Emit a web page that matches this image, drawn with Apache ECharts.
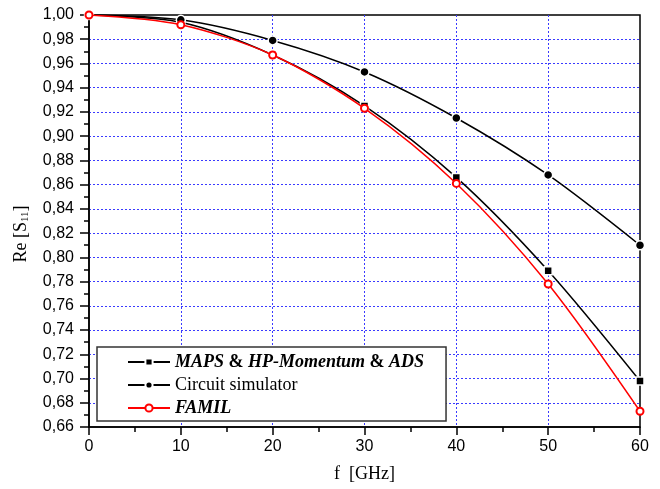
<!DOCTYPE html>
<html>
<head>
<meta charset="utf-8">
<script src="https://cdn.jsdelivr.net/npm/echarts@6/dist/echarts.min.js"></script>
<style>html,body{margin:0;padding:0;background:#fff}#c{width:660px;height:489px}</style>
</head>
<body>
<div id="c"></div>
<script>
var freqs = [0, 10, 20, 30, 40, 50, 60];
var mapsValues = [1.000, 0.994, 0.967, 0.925, 0.866, 0.789, 0.698];
var circuitValues = [1.000, 0.996, 0.979, 0.953, 0.915, 0.868, 0.810];
var familValues = [1.000, 0.992, 0.967, 0.923, 0.861, 0.778, 0.673];
var seriesNames = ['MAPS & HP-Momentum & ADS', 'Circuit simulator', 'FAMIL'];

function pairs(xs, ys) { return xs.map(function (x, i) { return [x, ys[i]]; }); }

var chart = echarts.init(document.getElementById('c'), null, {renderer: 'canvas'});
var axisCommon = {
  axisLine: {show: true, onZero: false, lineStyle: {color: '#000', width: 1.5}},
  axisTick: {show: true, inside: false, length: 8, lineStyle: {color: '#000', width: 1.5}},
  minorTick: {show: true, splitNumber: 2, length: 5, lineStyle: {color: '#000', width: 1.5}},
  splitLine: {show: true, showMinLine: false, showMaxLine: false, lineStyle: {color: '#3a3aff', type: [2, 2], width: 1}},
  axisLabel: {color: '#000', fontFamily: 'Liberation Sans', fontSize: 16}
};
var option = {
  backgroundColor: '#fff',
  animation: false,
  grid: {left: 89, right: 20, top: 15, bottom: 62, show: true, borderColor: '#000', borderWidth: 1.5, containLabel: false},
  xAxis: Object.assign({}, axisCommon, {
    type: 'value', min: 0, max: 60, interval: 10,
    name: 'f  [GHz]', nameLocation: 'middle', nameGap: 38,
    nameTextStyle: {fontFamily: 'Liberation Serif', fontSize: 18, color: '#000'},
    axisLabel: Object.assign({}, axisCommon.axisLabel, {margin: 12})
  }),
  yAxis: Object.assign({}, axisCommon, {
    type: 'value', min: 0.66, max: 1.0, interval: 0.02,
    name: '{a|Re [S}{s|11}{a|]}', nameLocation: 'middle', nameGap: 58, nameRotate: 90,
    nameTextStyle: {
      fontFamily: 'Liberation Serif', fontSize: 18, color: '#000', padding: [0, 26, 0, 0],
      rich: {a: {fontFamily: 'Liberation Serif', fontSize: 18, color: '#000'},
             s: {fontFamily: 'Liberation Serif', fontSize: 11, color: '#000', padding: [9, 0, 0, 0]}}
    },
    axisTick: Object.assign({}, axisCommon.axisTick, {length: 9}),
    axisLabel: Object.assign({}, axisCommon.axisLabel, {margin: 15,
      formatter: function (v) { return v.toFixed(2).replace('.', ','); }})
  }),
  legend: {
    orient: 'vertical', left: 97, top: 347,
    backgroundColor: '#fff', borderColor: '#333', borderWidth: 1.5,
    padding: [5, 22, 3, 30], itemGap: 3, itemWidth: 42, itemHeight: 9,
    data: seriesNames,
    textStyle: {
      fontFamily: 'Liberation Serif', fontSize: 18, color: '#000', lineHeight: 20,
      rich: {
        bi: {fontFamily: 'Liberation Serif', fontSize: 18, fontWeight: 'bold', fontStyle: 'italic', color: '#000'},
        b: {fontFamily: 'Liberation Serif', fontSize: 18, fontWeight: 'bold', color: '#000'},
        n: {fontFamily: 'Liberation Serif', fontSize: 18, color: '#000'}
      }
    },
    formatter: function (name) {
      if (name === seriesNames[0]) return '{bi|MAPS} {b|&} {bi|HP-Momentum} {b|&} {bi|ADS}';
      if (name === seriesNames[2]) return '{bi|FAMIL}';
      return '{n|' + name + '}';
    }
  },
  series: [
    {
      name: seriesNames[0], type: 'line', smooth: 0.3, data: pairs(freqs, mapsValues),
      symbol: 'rect', symbolSize: 8, showAllSymbol: true,
      lineStyle: {color: '#000', width: 1.5},
      itemStyle: {color: '#000', borderColor: '#fff', borderWidth: 1.5}, z: 3
    },
    {
      name: seriesNames[1], type: 'line', smooth: 0.3, data: pairs(freqs, circuitValues),
      symbol: 'circle', symbolSize: 9, showAllSymbol: true,
      lineStyle: {color: '#000', width: 1.5},
      itemStyle: {color: '#000', borderColor: '#fff', borderWidth: 1.5}, z: 3
    },
    {
      name: seriesNames[2], type: 'line', smooth: 0.3, data: pairs(freqs, familValues),
      symbol: 'emptyCircle', symbolSize: 7, showAllSymbol: true,
      lineStyle: {color: '#ff0000', width: 1.5},
      itemStyle: {color: '#ff0000', borderColor: '#ff0000', borderWidth: 1.2}, z: 4
    }
  ]
};
chart.setOption(option);
</script>
</body>
</html>
